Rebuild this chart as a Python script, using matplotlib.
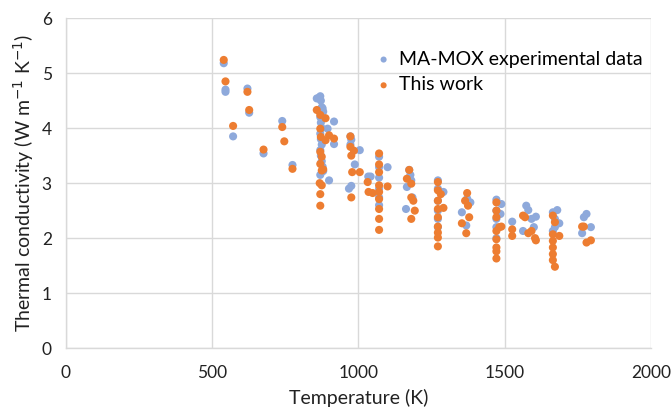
import matplotlib
matplotlib.use("Agg")
import matplotlib.pyplot as plt

plt.rcParams['font.family'] = ['Lato', 'DejaVu Sans']

# MA-MOX experimental data (T in K, conductivity in W m-1 K-1)
exp_T = [540, 546, 546, 621, 627, 572, 676, 740, 775,
         858, 865, 870, 872, 875, 878, 880, 870, 872, 875, 870, 872, 875, 870, 872, 875, 878, 880, 895, 917, 917, 900, 870,
         973, 976, 968, 988, 1005, 973, 976,
         1034, 1042, 1071, 1071, 1071, 1071, 1071, 1071, 1100,
         1174, 1166, 1163, 1181, 1185, 1178,
         1272, 1272, 1291, 1272, 1272, 1272, 1272,
         1354, 1369, 1383, 1372,
         1472, 1472, 1489, 1486, 1472, 1472, 1472,
         1526, 1563, 1574, 1581, 1592, 1607, 1600,
         1665, 1680, 1665, 1687, 1672, 1672,
         1765, 1771, 1780, 1795]
exp_k = [5.18, 4.66, 4.70, 4.72, 4.28, 3.85, 3.54, 4.13, 3.33,
         4.54, 4.55, 4.58, 4.50, 4.38, 4.36, 4.30, 4.20, 4.10, 4.00, 3.90, 3.80, 3.70, 3.60, 3.50, 3.40, 3.30, 3.22, 3.99, 4.12, 3.71, 3.05, 3.15,
         3.85, 3.79, 2.90, 3.34, 3.60, 3.70, 2.95,
         3.12, 3.12, 3.48, 3.29, 3.10, 2.90, 2.74, 2.60, 3.29,
         3.24, 2.93, 2.53, 3.05, 2.74, 3.15,
         3.05, 2.68, 2.84, 2.90, 2.50, 2.35, 2.20,
         2.47, 2.23, 2.65, 2.72,
         2.70, 2.20, 2.62, 2.44, 2.50, 2.35, 2.00,
         2.30, 2.13, 2.59, 2.51, 2.35, 2.39, 2.20,
         2.47, 2.51, 2.13, 2.27, 2.35, 2.20,
         2.09, 2.38, 2.44, 2.20]

# This work (model)
mod_T = [540, 546, 621, 627, 572, 676, 740, 747, 775,
         858, 870, 888, 870, 872, 870, 875, 870, 875, 868, 875, 870, 870, 888, 900, 917, 880,
         973, 973, 976, 985, 976, 979, 1005,
         1032, 1035, 1049,
         1071, 1071, 1071, 1071, 1071, 1071, 1071, 1071, 1071, 1100,
         1174, 1166, 1181, 1181, 1188, 1181, 1193,
         1272, 1272, 1272, 1272, 1272, 1272, 1272, 1272, 1272, 1291, 1282,
         1354, 1369, 1365, 1372, 1375, 1379,
         1472, 1472, 1472, 1472, 1472, 1472, 1472, 1482, 1489, 1472,
         1526, 1526, 1563, 1570, 1581, 1592, 1604, 1607,
         1665, 1672, 1665, 1665, 1665, 1665, 1665, 1672, 1687,
         1765, 1780, 1795, 1771]
mod_k = [5.24, 4.85, 4.66, 4.33, 4.04, 3.61, 4.02, 3.76, 3.26,
         4.33, 4.24, 4.18, 3.99, 3.84, 3.57, 3.48, 3.35, 3.23, 3.00, 2.96, 2.80, 2.59, 3.78, 3.87, 3.81, 3.25,
         3.85, 3.66, 3.50, 3.59, 2.74, 3.20, 3.20,
         3.02, 2.84, 2.82,
         3.54, 3.34, 3.20, 2.96, 2.84, 2.71, 2.53, 2.35, 2.15, 2.94,
         3.24, 3.08, 2.99, 2.74, 2.68, 2.35, 2.50,
         3.02, 2.87, 2.68, 2.53, 2.38, 2.21, 2.10, 2.01, 1.85, 2.55, 2.80,
         2.27, 2.09, 2.68, 2.82, 2.59, 2.38,
         2.65, 2.50, 2.38, 2.13, 1.98, 1.83, 1.76, 2.20, 2.21, 1.63,
         2.16, 2.04, 2.41, 2.38, 2.09, 2.13, 2.00, 1.96,
         2.41, 2.29, 2.07, 1.95, 1.83, 1.71, 1.60, 1.48, 2.04,
         2.21, 1.92, 1.96, 2.21]

x_ticks = [0, 500, 1000, 1500, 2000]
y_ticks = [0, 1, 2, 3, 4, 5, 6]

fig = plt.figure(figsize=(6.71, 4.12), dpi=100)
ax = fig.add_axes([0.098, 0.155, 0.872, 0.801])

ax.scatter(exp_T, exp_k, s=34, color='#8EA9DB', edgecolors='none', label='MA-MOX experimental data', zorder=3)
ax.scatter(mod_T, mod_k, s=34, color='#ED7D31', edgecolors='none', label='This work', zorder=4)

ax.set_xlim(0, 2000)
ax.set_ylim(0, 6)
ax.set_xticks(x_ticks)
ax.set_yticks(y_ticks)
ax.grid(True, color='#D9D9D9', linewidth=1.0, zorder=0)
ax.set_axisbelow(True)
for side in ['top', 'right']:
    ax.spines[side].set_visible(False)
for side in ['left', 'bottom']:
    ax.spines[side].set_color('#D9D9D9')
    ax.spines[side].set_linewidth(1.0)
ax.tick_params(axis='x', length=0, labelsize=12.5, labelcolor='#222222', pad=12)
ax.tick_params(axis='y', length=0, labelsize=12.5, labelcolor='#222222', pad=10)

ax.set_xlabel('Temperature (K)', fontsize=14, color='#222222', labelpad=6)
ax.set_ylabel(r'Thermal conductivity (W m$^{-1}$ K$^{-1}$)', fontsize=14, color='#222222', labelpad=4)

leg = ax.legend(loc='upper left', bbox_to_anchor=(0.51, 0.925), frameon=False, fontsize=14,
                handletextpad=0.2, borderaxespad=0, labelspacing=0.45, markerscale=0.75,
                handlelength=1.2)

fig.savefig('out.png', dpi=100)
